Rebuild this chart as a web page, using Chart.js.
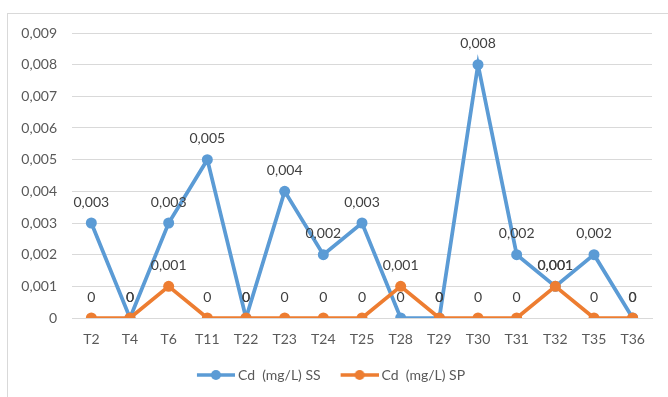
<!DOCTYPE html>
<html>
<head>
<meta charset="utf-8">
<script src="https://cdn.jsdelivr.net/npm/chart.js@4.4.1/dist/chart.umd.min.js"></script>
<style>
html,body{margin:0;padding:0;background:#fff;overflow:hidden;}
#wrap{position:relative;width:668px;height:397px;}
#frame{position:absolute;left:7px;top:13px;width:700px;height:420px;border:1px solid #d9d9d9;box-sizing:border-box;}
canvas{position:absolute;left:0;top:0;}
</style>
</head>
<body>
<div id="wrap">
<div id="frame"></div>
<canvas id="c" width="668" height="397"></canvas>
</div>
<script>
const categories = ["T2","T4","T6","T11","T22","T23","T24","T25","T28","T29","T30","T31","T32","T35","T36"];
const seriesSS = [0.003,0,0.003,0.005,0,0.004,0.002,0.003,0,0,0.008,0.002,0.001,0.002,0];
const seriesSP = [0,0,0.001,0,0,0,0,0,0.001,0,0,0,0.001,0,0];
const seriesNames = ["Cd  (mg/L) SS","Cd  (mg/L) SP"];
const seriesColors = ["#5B9BD5","#ED7D31"];
const yTicks = [0,0.001,0.002,0.003,0.004,0.005,0.006,0.007,0.008,0.009];

const FONT = "Lato, 'Open Sans', sans-serif";
function fmt(v){ return v === 0 ? "0" : String(+v.toFixed(3)).replace(".", ","); }

function legendIcon(color){
  const c = document.createElement("canvas");
  c.width = 52; c.height = 12;
  const g = c.getContext("2d");
  g.strokeStyle = color; g.lineWidth = 3.5;
  g.beginPath(); g.moveTo(14,6); g.lineTo(52,6); g.stroke();
  g.fillStyle = color;
  g.beginPath(); g.arc(33,6,5,0,Math.PI*2); g.fill();
  return c;
}
const icons = seriesColors.map(legendIcon);

const dataLabels = {
  id: "dataLabels",
  afterDatasetsDraw(chart){
    const ctx = chart.ctx;
    ctx.save();
    ctx.font = "14px " + FONT;
    ctx.fillStyle = "#404040";
    ctx.textAlign = "center";
    ctx.textBaseline = "middle";
    chart.data.datasets.forEach((ds, i) => {
      const meta = chart.getDatasetMeta(i);
      meta.data.forEach((pt, j) => {
        ctx.fillText(fmt(ds.data[j]), pt.x, pt.y - 21);
      });
    });
    ctx.restore();
  }
};

new Chart(document.getElementById("c"), {
  type: "line",
  data: {
    labels: categories,
    datasets: [
      {label: seriesNames[0], data: seriesSS, borderColor: seriesColors[0], backgroundColor: seriesColors[0],
       borderWidth: 3.75, pointRadius: 5.5, pointHoverRadius: 5.5, pointBorderWidth: 0, tension: 0, order: 2},
      {label: seriesNames[1], data: seriesSP, borderColor: seriesColors[1], backgroundColor: seriesColors[1],
       borderWidth: 3.75, pointRadius: 5.5, pointHoverRadius: 5.5, pointBorderWidth: 0, tension: 0, order: 1}
    ]
  },
  options: {
    responsive: false,
    animation: false,
    layout: {padding: {top: 33, right: 16, bottom: 5, left: 0}},
    plugins: {
      legend: {
        position: "bottom",
        labels: {
          usePointStyle: true,
          pointStyleWidth: 44,
          padding: 10,
          color: "#595959",
          font: {family: FONT, size: 14},
          sort: (a, b) => a.datasetIndex - b.datasetIndex,
          generateLabels(chart){
            const items = Chart.defaults.plugins.legend.labels.generateLabels(chart);
            items.forEach((it) => { it.pointStyle = icons[it.datasetIndex]; });
            return items;
          }
        }
      },
      tooltip: {enabled: false}
    },
    scales: {
      x: {
        offset: true,
        grid: {display: false},
        border: {display: true, color: "#d9d9d9"},
        afterFit(scale){ scale.height = 40; },
        ticks: {color: "#595959", font: {family: FONT, size: 14}, padding: 5, maxRotation: 0, autoSkip: false}
      },
      y: {
        min: 0, max: 0.009,
        afterBuildTicks(scale){ scale.ticks = yTicks.map(v => ({value: v})); },
        afterFit(scale){ scale.width = 72; },
        grid: {color: "#d9d9d9", drawTicks: false},
        border: {display: false},
        ticks: {color: "#595959", font: {family: FONT, size: 14}, padding: 15, callback: v => fmt(v)}
      }
    }
  },
  plugins: [dataLabels]
});
</script>
</body>
</html>
